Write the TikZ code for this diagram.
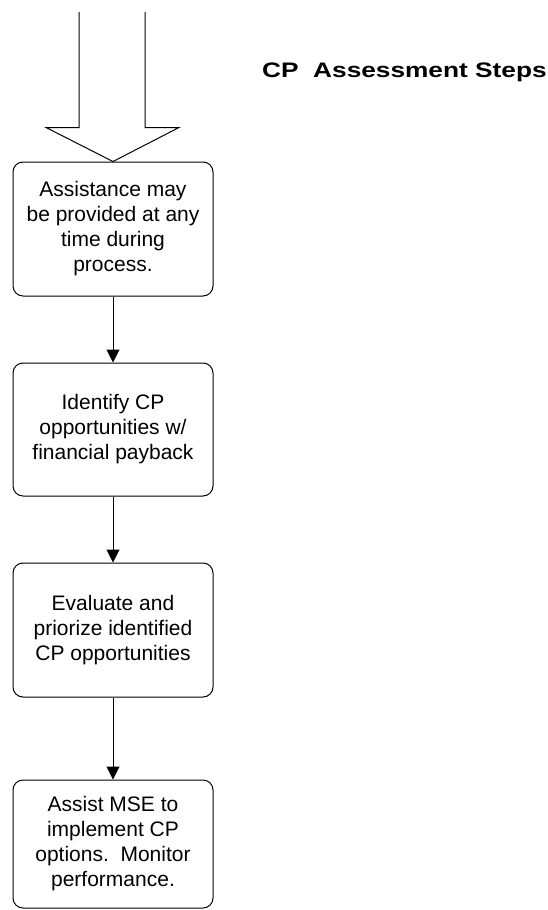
\documentclass[tikz,border=0pt]{standalone}
\usepackage{fontspec}
\setmainfont{Liberation Sans}
\newfontfamily\titlefont[FakeStretch=1.25]{Liberation Sans}
\usetikzlibrary{arrows.meta}
\begin{document}
\begin{tikzpicture}[x=1pt,y=-1pt,
  stepbox/.style={draw=black, line width=1pt, rounded corners=10pt,
    minimum width=200pt, align=center, inner sep=0pt,
    font=\fontsize{21}{25}\selectfont},
  flow/.style={draw=black, line width=1pt, -{Triangle[length=13pt,width=13pt]}},
  hollow/.style={draw=black, line width=1pt}]
\useasboundingbox (0,0) rectangle (548,910);
\node[stepbox, minimum height=134pt] (b1) at (113,229) {Assistance may\\be provided at any\\time during\\process.};
\node[stepbox, minimum height=133pt] (b2) at (113,429.5) {Identify CP\\opportunities w/\\financial payback};
\node[stepbox, minimum height=134pt] (b3) at (113,630) {Evaluate and\\priorize identified\\CP opportunities};
\node[stepbox, minimum height=128pt] (b4) at (113,844) {Assist MSE to\\implement CP\\options.\ \ Monitor\\performance.};
\draw[flow] (b1.south) -- (b2.north);
\draw[flow] (b2.south) -- (b3.north);
\draw[flow] (b3.south) -- (b4.north);
\coordinate (tip) at (b1.north);
\draw[hollow, line join=miter] ([xshift=-34pt]tip |- 0,12) -- ([xshift=-34pt,yshift=34pt]tip)
  -- ([xshift=-67pt,yshift=34pt]tip) -- (tip) -- ([xshift=66pt,yshift=34pt]tip)
  -- ([xshift=32pt,yshift=34pt]tip) -- ([xshift=32pt]tip |- 0,12);
\node[anchor=base west, inner sep=0pt, font=\titlefont\fontsize{21}{25}\selectfont\bfseries] (title) at (262,77) {CP\ \ Assessment Steps};
\end{tikzpicture}
\end{document}
